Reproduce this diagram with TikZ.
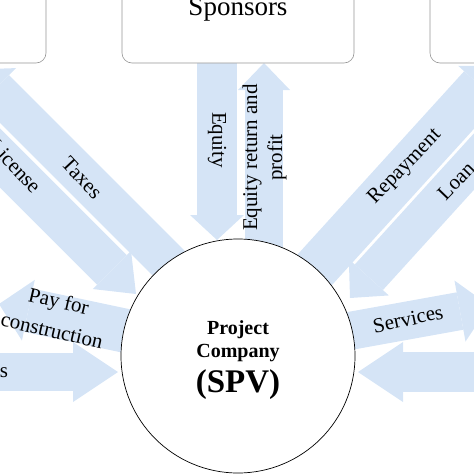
\documentclass[tikz,border=0pt]{standalone}
\usepackage{fontspec}
\setmainfont{Liberation Serif}
\usetikzlibrary{arrows.meta}
\definecolor{bandblue}{RGB}{213,228,246}
\definecolor{boxgray}{RGB}{150,150,150}

\begin{document}
\begin{tikzpicture}[x=1pt, y=1pt,
flow/.style n args={3}{draw=bandblue, line width=#1, -{Triangle[width=#2, length=#3, line width=0pt]}},
party/.style={draw=boxgray, fill=white, rounded corners=10pt, line width=0.6pt, minimum height=108pt, inner sep=0pt},
lbl/.style={font=\fontsize{21}{25}\selectfont, inner sep=0pt},
spvtext/.style={font=\bfseries\fontsize{20}{23}\selectfont, inner sep=0pt, anchor=base}
]
    \useasboundingbox (0,0) rectangle (474,-474);

    % arrow ends
    \coordinate (eqA) at (217,-50);
    \coordinate (eqB) at (217,-240);
    \coordinate (erA) at (264,-250);
    \coordinate (erB) at (264,-63);
    \coordinate (taA) at (200,-294.5);
    \coordinate (taB) at (-25,-69.5);
    \coordinate (liA) at (-60,-98);
    \coordinate (liB) at (136,-294);
    \coordinate (reA) at (300,-286);
    \coordinate (reB) at (500,-66);
    \coordinate (loA) at (499,-134);
    \coordinate (loB) at (350,-298);
    \coordinate (paA) at (150,-336);
    \coordinate (paB) at (-1,-304);
    \coordinate (llA) at (-50,-372);
    \coordinate (llB) at (118,-372);
    \coordinate (seA) at (330,-334.5);
    \coordinate (seB) at (489.5,-305.7);
    \coordinate (lrA) at (520,-372);
    \coordinate (lrB) at (358,-372);

    \draw [flow={40pt}{54pt}{25pt}] (eqA) -- (eqB);
    \draw [flow={38pt}{52pt}{27pt}] (erA) -- (erB);
    \draw [flow={40pt}{60pt}{28pt}] (taA) -- (taB);
    \draw [flow={42pt}{54pt}{34pt}] (liA) -- (liB);
    \draw [flow={46pt}{62pt}{28pt}] (reA) -- (reB);
    \draw [flow={38pt}{54pt}{28pt}] (loA) -- (loB);
    \draw [flow={44pt}{62pt}{30pt}] (paA) -- (paB);
    \draw [flow={38pt}{60pt}{45pt}] (llA) -- (llB);
    \draw [flow={38pt}{62pt}{30pt}] (seA) -- (seB);
    \draw [flow={40pt}{60pt}{45pt}] (lrA) -- (lrB);

    % parties
    \node [party, minimum width=232pt, font=\fontsize{27}{30}\selectfont] (sponsors) at (238,-9) {Sponsors};
    \node [party, minimum width=106pt] (govt) at (-7,-9) {};
    \node [party, minimum width=106pt] (lenders) at (483,-9) {};

    \node [circle, draw=black, fill=white, line width=0.7pt, minimum size=234pt, inner sep=0pt] (spv) at (238,-356) {};
    \node [spvtext] (proj) at (238,-334) {Project};
    \node [spvtext] (comp) at (238,-357) {Company};
    \node [spvtext, font=\bfseries\fontsize{33}{36}\selectfont] (spvlbl) at (238,-392) {(SPV)};

    % flow labels
    \node [lbl, rotate=-90] (eqlbl) at (217,-140) {Equity};
    \node [lbl, rotate=90, align=center] (erlbl) at (264.5,-157.5) {Equity return and\\profit};
    \node [lbl, rotate=-47] (talbl) at (82,-178) {Taxes};
    \node [lbl, rotate=-47] (lilbl) at (15,-166) {License};
    \node [lbl, rotate=46] (relbl) at (405,-167) {Repayment};
    \node [lbl, rotate=46] (lolbl) at (456,-181) {Loan};
    \node [lbl, rotate=-13, align=center, font=\fontsize{21}{30}\selectfont] (palbl) at (55.5,-315.5) {Pay for\\construction};
    \node [lbl] (lllbl) at (4,-373) {s};
    \node [lbl, rotate=12] (selbl) at (408,-319) {Services};

\end{tikzpicture}
\end{document}
